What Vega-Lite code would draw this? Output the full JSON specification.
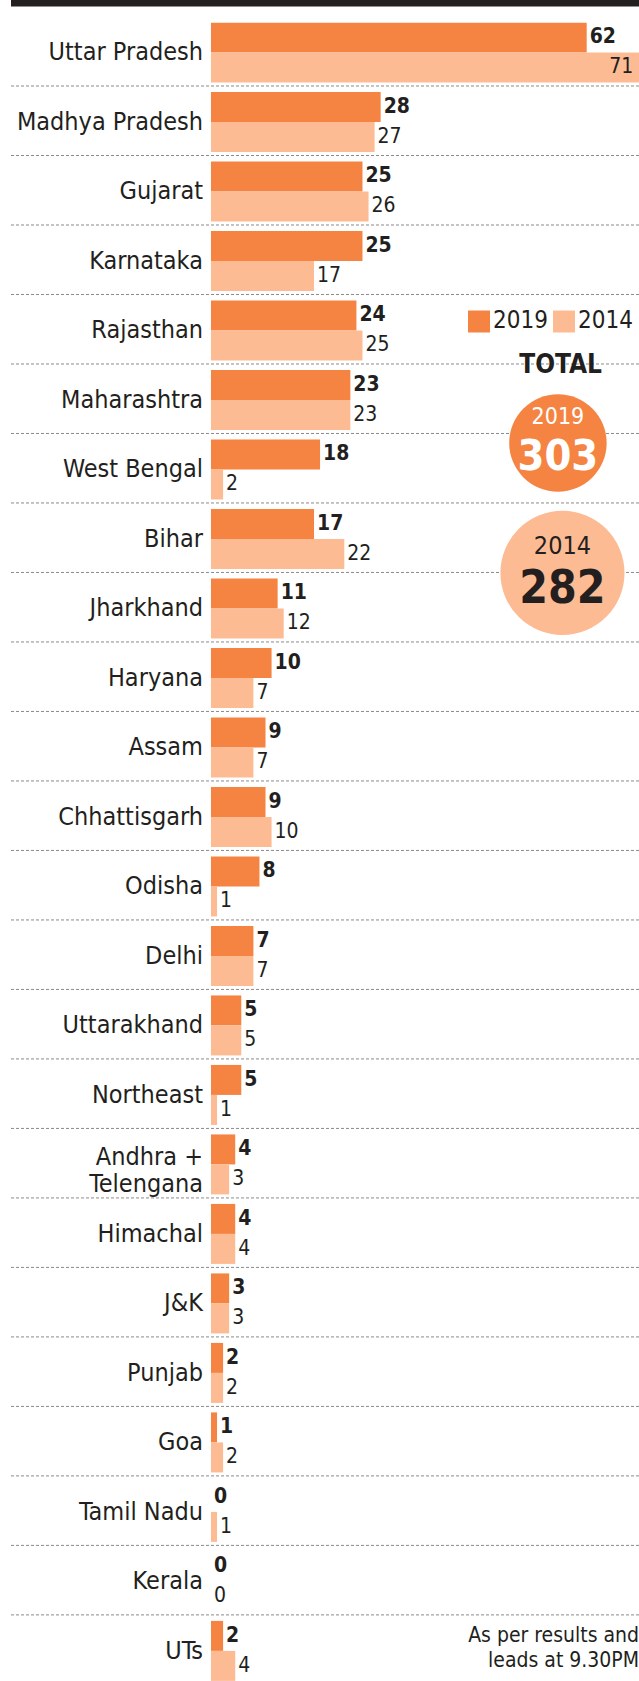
{
  "$schema": "https://vega.github.io/schema/vega-lite/v6.json",
  "width": 628,
  "height": 1658.4,
  "padding": {"left": 11, "top": 22.5, "right": 0, "bottom": 0},
  "autosize": {"type": "none"},
  "background": "white",
  "config": {
    "view": {"stroke": null},
    "font": "DejaVu Sans Condensed, Liberation Sans Narrow, DejaVu Sans, sans-serif"
  },
  "data": {
    "values": [
      {"state": "Uttar Pradesh", "year": "2019", "seats": 62},
      {"state": "Uttar Pradesh", "year": "2014", "seats": 71},
      {"state": "Madhya Pradesh", "year": "2019", "seats": 28},
      {"state": "Madhya Pradesh", "year": "2014", "seats": 27},
      {"state": "Gujarat", "year": "2019", "seats": 25},
      {"state": "Gujarat", "year": "2014", "seats": 26},
      {"state": "Karnataka", "year": "2019", "seats": 25},
      {"state": "Karnataka", "year": "2014", "seats": 17},
      {"state": "Rajasthan", "year": "2019", "seats": 24},
      {"state": "Rajasthan", "year": "2014", "seats": 25},
      {"state": "Maharashtra", "year": "2019", "seats": 23},
      {"state": "Maharashtra", "year": "2014", "seats": 23},
      {"state": "West Bengal", "year": "2019", "seats": 18},
      {"state": "West Bengal", "year": "2014", "seats": 2},
      {"state": "Bihar", "year": "2019", "seats": 17},
      {"state": "Bihar", "year": "2014", "seats": 22},
      {"state": "Jharkhand", "year": "2019", "seats": 11},
      {"state": "Jharkhand", "year": "2014", "seats": 12},
      {"state": "Haryana", "year": "2019", "seats": 10},
      {"state": "Haryana", "year": "2014", "seats": 7},
      {"state": "Assam", "year": "2019", "seats": 9},
      {"state": "Assam", "year": "2014", "seats": 7},
      {"state": "Chhattisgarh", "year": "2019", "seats": 9},
      {"state": "Chhattisgarh", "year": "2014", "seats": 10},
      {"state": "Odisha", "year": "2019", "seats": 8},
      {"state": "Odisha", "year": "2014", "seats": 1},
      {"state": "Delhi", "year": "2019", "seats": 7},
      {"state": "Delhi", "year": "2014", "seats": 7},
      {"state": "Uttarakhand", "year": "2019", "seats": 5},
      {"state": "Uttarakhand", "year": "2014", "seats": 5},
      {"state": "Northeast", "year": "2019", "seats": 5},
      {"state": "Northeast", "year": "2014", "seats": 1},
      {"state": "Andhra + Telengana", "year": "2019", "seats": 4},
      {"state": "Andhra + Telengana", "year": "2014", "seats": 3},
      {"state": "Himachal", "year": "2019", "seats": 4},
      {"state": "Himachal", "year": "2014", "seats": 4},
      {"state": "J&K", "year": "2019", "seats": 3},
      {"state": "J&K", "year": "2014", "seats": 3},
      {"state": "Punjab", "year": "2019", "seats": 2},
      {"state": "Punjab", "year": "2014", "seats": 2},
      {"state": "Goa", "year": "2019", "seats": 1},
      {"state": "Goa", "year": "2014", "seats": 2},
      {"state": "Tamil Nadu", "year": "2019", "seats": 0},
      {"state": "Tamil Nadu", "year": "2014", "seats": 1},
      {"state": "Kerala", "year": "2019", "seats": 0},
      {"state": "Kerala", "year": "2014", "seats": 0},
      {"state": "UTs", "year": "2019", "seats": 2},
      {"state": "UTs", "year": "2014", "seats": 4}
    ]
  },
  "layer": [
    {
      "transform": [{"filter": "datum.year === '2019' && datum.state !== 'Uttar Pradesh'"}],
      "mark": {"type": "rule", "strokeDash": [3, 2], "color": "#8a8a8a", "strokeWidth": 1},
      "encoding": {
        "y": {"field": "state", "type": "nominal", "bandPosition": -0.1, "axis": null}
      }
    },
    {
      "data": {"values": [{"part": "top rule"}]},
      "mark": {"type": "rule", "color": "#231f20", "strokeWidth": 6.5},
      "encoding": {
        "y": {"datum": "Uttar Pradesh", "type": "nominal", "bandPosition": -0.32, "axis": null}
      }
    },
    {
      "mark": {"type": "bar", "clip": true},
      "encoding": {
        "x": {
          "field": "seats", "type": "quantitative",
          "scale": {"domain": [-33, 70.63], "nice": false, "zero": false},
          "axis": null
        },
        "y": {
          "field": "state", "type": "nominal", "sort": null,
          "scale": {"domain": ["Uttar Pradesh", "Madhya Pradesh", "Gujarat", "Karnataka", "Rajasthan", "Maharashtra", "West Bengal", "Bihar", "Jharkhand", "Haryana", "Assam", "Chhattisgarh", "Odisha", "Delhi", "Uttarakhand", "Northeast", "Andhra + Telengana", "Himachal", "J&K", "Punjab", "Goa", "Tamil Nadu", "Kerala", "UTs"], "paddingInner": 0.1367, "paddingOuter": 0},
          "axis": null
        },
        "yOffset": {
          "field": "year", "type": "nominal",
          "scale": {"domain": ["2019", "2014"], "paddingInner": 0, "paddingOuter": 0}
        },
        "color": {
          "field": "year", "type": "nominal",
          "scale": {"domain": ["2019", "2014"], "range": ["#F58443", "#FDBB93"]},
          "legend": {
            "title": null, "orient": "none", "legendX": 456, "legendY": 287, "direction": "horizontal",
            "symbolType": "square", "symbolSize": 484, "symbolStrokeWidth": 0,
            "labelFontSize": 24, "labelColor": "#231f20", "columnPadding": 4, "labelOffset": 2, "padding": 0, "symbolOffset": 0
          }
        }
      }
    },
    {
      "transform": [{"filter": "datum.year === '2019' && datum.state !== 'Andhra + Telengana'"}],
      "mark": {"type": "text", "align": "right", "baseline": "middle", "dx": -8, "fontSize": 25, "color": "#231f20"},
      "encoding": {
        "x": {"datum": 0, "type": "quantitative", "axis": null},
        "y": {"field": "state", "type": "nominal", "sort": null, "axis": null},
        "text": {"field": "state", "type": "nominal"}
      }
    },
    {
      "transform": [
        {"filter": "datum.year === '2019' && datum.state === 'Andhra + Telengana'"},
        {"calculate": "['Andhra +', 'Telengana']", "as": "label"}
      ],
      "mark": {"type": "text", "align": "right", "baseline": "middle", "dx": -8, "dy": -7, "fontSize": 25, "lineHeight": 27, "color": "#231f20"},
      "encoding": {
        "x": {"datum": 0, "type": "quantitative", "axis": null},
        "y": {"field": "state", "type": "nominal", "sort": null, "axis": null},
        "text": {"field": "label", "type": "nominal"}
      }
    },
    {
      "transform": [{"filter": "datum.year === '2019'"}],
      "mark": {"type": "text", "align": "left", "baseline": "middle", "dx": 3, "fontSize": 21, "fontWeight": "bold", "color": "#231f20"},
      "encoding": {
        "x": {"field": "seats", "type": "quantitative", "axis": null},
        "y": {"field": "state", "type": "nominal", "sort": null, "axis": null},
        "yOffset": {"field": "year", "type": "nominal", "scale": {"domain": ["2019", "2014"], "paddingInner": 0, "paddingOuter": 0}},
        "text": {"field": "seats", "type": "quantitative"}
      }
    },
    {
      "transform": [{"filter": "datum.year === '2014' && datum.seats < 65"}],
      "mark": {"type": "text", "align": "left", "baseline": "middle", "dx": 3, "fontSize": 21, "fontWeight": "normal", "color": "#231f20"},
      "encoding": {
        "x": {"field": "seats", "type": "quantitative", "axis": null},
        "y": {"field": "state", "type": "nominal", "sort": null, "axis": null},
        "yOffset": {"field": "year", "type": "nominal", "scale": {"domain": ["2019", "2014"], "paddingInner": 0, "paddingOuter": 0}},
        "text": {"field": "seats", "type": "quantitative"}
      }
    },
    {
      "transform": [{"filter": "datum.year === '2014' && datum.seats >= 65"}],
      "mark": {"type": "text", "align": "right", "baseline": "middle", "dx": -8, "fontSize": 21, "fontWeight": "normal", "color": "#231f20"},
      "encoding": {
        "x": {"field": "seats", "type": "quantitative", "axis": null},
        "y": {"field": "state", "type": "nominal", "sort": null, "axis": null},
        "yOffset": {"field": "year", "type": "nominal", "scale": {"domain": ["2019", "2014"], "paddingInner": 0, "paddingOuter": 0}},
        "text": {"field": "seats", "type": "quantitative"}
      }
    },
    {
      "data": {"values": [{"label": "TOTAL"}]},
      "mark": {"type": "text", "align": "center", "baseline": "middle", "fontSize": 26, "fontWeight": "bold", "color": "#231f20"},
      "encoding": {
        "x": {"datum": 57.7, "type": "quantitative", "axis": null},
        "y": {"datum": "Maharashtra", "type": "nominal", "bandPosition": -0.083, "axis": null},
        "text": {"field": "label", "type": "nominal"}
      }
    },
    {
      "data": {"values": [{"year": "2019", "total": 303}]},
      "mark": {"type": "circle", "size": 9500, "color": "#F58443", "opacity": 1},
      "encoding": {
        "x": {"datum": 57.25, "type": "quantitative", "axis": null},
        "y": {"datum": "West Bengal", "type": "nominal", "bandPosition": 0.058, "axis": null}
      }
    },
    {
      "data": {"values": [{"year": "2019", "total": 303}]},
      "mark": {"type": "text", "align": "center", "baseline": "middle", "fontSize": 23, "color": "white"},
      "encoding": {
        "x": {"datum": 57.25, "type": "quantitative", "axis": null},
        "y": {"datum": "Maharashtra", "type": "nominal", "bandPosition": 0.783, "axis": null},
        "text": {"field": "year", "type": "nominal"}
      }
    },
    {
      "data": {"values": [{"year": "2019", "total": 303}]},
      "mark": {"type": "text", "align": "center", "baseline": "middle", "fontSize": 43, "fontWeight": "bold", "color": "white"},
      "encoding": {
        "x": {"datum": 57.25, "type": "quantitative", "axis": null},
        "y": {"datum": "West Bengal", "type": "nominal", "bandPosition": 0.29, "axis": null},
        "text": {"field": "total", "type": "quantitative"}
      }
    },
    {
      "data": {"values": [{"year": "2014", "total": 282}]},
      "mark": {"type": "circle", "size": 15400, "color": "#FDBB93", "opacity": 1},
      "encoding": {
        "x": {"datum": 58.0, "type": "quantitative", "axis": null},
        "y": {"datum": "Jharkhand", "type": "nominal", "bandPosition": -0.092, "axis": null}
      }
    },
    {
      "data": {"values": [{"year": "2014", "total": 282}]},
      "mark": {"type": "text", "align": "center", "baseline": "middle", "fontSize": 25, "color": "#231f20"},
      "encoding": {
        "x": {"datum": 58.0, "type": "quantitative", "axis": null},
        "y": {"datum": "Bihar", "type": "nominal", "bandPosition": 0.61, "axis": null},
        "text": {"field": "year", "type": "nominal"}
      }
    },
    {
      "data": {"values": [{"year": "2014", "total": 282}]},
      "mark": {"type": "text", "align": "center", "baseline": "middle", "fontSize": 46, "fontWeight": "bold", "color": "#231f20"},
      "encoding": {
        "x": {"datum": 58.0, "type": "quantitative", "axis": null},
        "y": {"datum": "Jharkhand", "type": "nominal", "bandPosition": 0.175, "axis": null},
        "text": {"field": "total", "type": "quantitative"}
      }
    },
    {
      "data": {"values": [{"note": "As per results and\nleads at 9.30PM"}]},
      "mark": {"type": "text", "align": "right", "baseline": "middle", "fontSize": 21, "lineHeight": 25, "lineBreak": "\n", "color": "#231f20"},
      "encoding": {
        "x": {"datum": 70.63, "type": "quantitative", "axis": null},
        "y": {"datum": "UTs", "type": "nominal", "bandPosition": 0.26, "axis": null},
        "text": {"field": "note", "type": "nominal"}
      }
    }
  ]
}
